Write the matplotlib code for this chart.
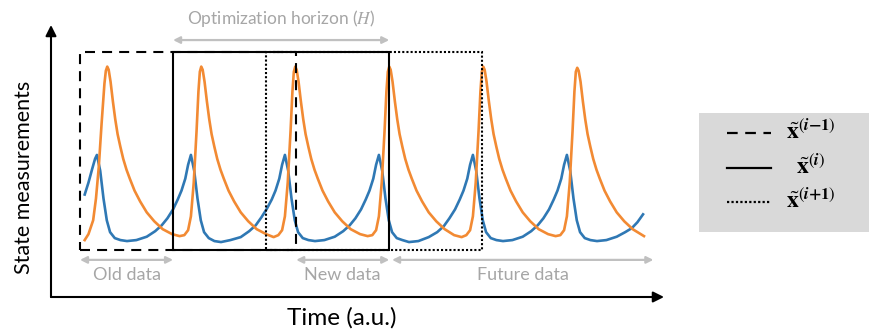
import matplotlib
matplotlib.use("Agg")
import matplotlib.pyplot as plt
from matplotlib.patches import Rectangle
from matplotlib.lines import Line2D

# two state trajectories (time in a.u., normalised state)
blue_t = [0.5, 0.9, 1.3, 1.6,
          1.8, 2.15, 2.5, 2.85, 3.2, 3.7, 4.3, 5.0, 6.0, 7.1, 8.0, 8.7, 9.3, 9.9, 10.4, 10.8, 11.2, 11.5,
          11.8, 12.15, 12.5, 12.85, 13.2, 13.7, 14.3, 15.0, 16.0, 17.1, 18.0, 18.7, 19.3, 19.9, 20.4, 20.8, 21.2, 21.5,
          21.8, 22.15, 22.5, 22.85, 23.2, 23.7, 24.3, 25.0, 26.0, 27.1, 28.0, 28.7, 29.3, 29.9, 30.4, 30.8, 31.2, 31.5,
          31.8, 32.15, 32.5, 32.85, 33.2, 33.7, 34.3, 35.0, 36.0, 37.1, 38.0, 38.7, 39.3, 39.9, 40.4, 40.8, 41.2, 41.5,
          41.8, 42.15, 42.5, 42.85, 43.2, 43.7, 44.3, 45.0, 46.0, 47.1, 48.0, 48.7, 49.3, 49.9, 50.4, 50.8, 51.2, 51.5,
          51.8, 52.15, 52.5, 52.85, 53.2, 53.7, 54.3, 55.0, 56.0, 57.1, 58.0, 58.7, 59.3, 59.9]
blue_y = [0.28, 0.34, 0.41, 0.46,
          0.48, 0.40, 0.26, 0.15, 0.09, 0.06, 0.05, 0.045, 0.05, 0.067, 0.095, 0.125, 0.16, 0.205, 0.255, 0.30, 0.36, 0.43,
          0.48, 0.40, 0.26, 0.15, 0.09, 0.06, 0.045, 0.04, 0.05, 0.065, 0.095, 0.125, 0.165, 0.21, 0.255, 0.30, 0.36, 0.43,
          0.48, 0.40, 0.26, 0.15, 0.09, 0.06, 0.05, 0.045, 0.05, 0.067, 0.095, 0.125, 0.16, 0.205, 0.255, 0.30, 0.36, 0.43,
          0.48, 0.40, 0.26, 0.15, 0.09, 0.06, 0.05, 0.04, 0.045, 0.065, 0.09, 0.12, 0.16, 0.205, 0.255, 0.30, 0.36, 0.43,
          0.48, 0.40, 0.26, 0.15, 0.09, 0.06, 0.05, 0.045, 0.05, 0.067, 0.095, 0.125, 0.16, 0.205, 0.255, 0.30, 0.36, 0.43,
          0.48, 0.40, 0.26, 0.15, 0.09, 0.06, 0.05, 0.045, 0.05, 0.067, 0.09, 0.11, 0.14, 0.18]

orange_t = [0.5, 0.9, 1.4, 1.7, 2.0, 2.3, 2.6, 2.75,
            2.9, 3.05, 3.25, 3.5, 3.75, 4.0, 4.3, 4.6, 4.95, 5.3, 5.8, 6.4, 7.1, 7.9, 8.8, 9.8, 10.6, 11.1, 11.5, 11.8, 12.1, 12.4, 12.6, 12.75,
            12.9, 13.05, 13.25, 13.5, 13.75, 14.0, 14.3, 14.6, 14.95, 15.3, 15.8, 16.4, 17.1, 17.9, 18.8, 19.8, 20.6, 21.1, 21.5, 21.8, 22.1, 22.4, 22.6, 22.75,
            22.9, 23.05, 23.25, 23.5, 23.75, 24.0, 24.3, 24.6, 24.95, 25.3, 25.8, 26.4, 27.1, 27.9, 28.8, 29.8, 30.6, 31.1, 31.5, 31.8, 32.1, 32.4, 32.6, 32.75,
            32.9, 33.05, 33.25, 33.5, 33.75, 34.0, 34.3, 34.6, 34.95, 35.3, 35.8, 36.4, 37.1, 37.9, 38.8, 39.8, 40.6, 41.1, 41.5, 41.8, 42.1, 42.4, 42.6, 42.75,
            42.9, 43.05, 43.25, 43.5, 43.75, 44.0, 44.3, 44.6, 44.95, 45.3, 45.8, 46.4, 47.1, 47.9, 48.8, 49.8, 50.6, 51.1, 51.5, 51.8, 52.1, 52.4, 52.6, 52.75,
            52.9, 53.05, 53.25, 53.5, 53.75, 54.0, 54.3, 54.6, 54.95, 55.3, 55.8, 56.4, 57.1, 57.9, 58.8, 60.0]
orange_y = [0.05, 0.08, 0.15, 0.26, 0.42, 0.64, 0.84, 0.905,
            0.926, 0.91, 0.85, 0.75, 0.66, 0.585, 0.52, 0.46, 0.405, 0.36, 0.30, 0.245, 0.19, 0.145, 0.105, 0.08, 0.07, 0.075, 0.10, 0.17, 0.34, 0.60, 0.80, 0.90,
            0.926, 0.91, 0.85, 0.75, 0.66, 0.585, 0.52, 0.46, 0.405, 0.36, 0.30, 0.245, 0.19, 0.145, 0.105, 0.08, 0.065, 0.075, 0.10, 0.17, 0.34, 0.60, 0.80, 0.90,
            0.926, 0.91, 0.85, 0.75, 0.66, 0.585, 0.52, 0.46, 0.405, 0.36, 0.30, 0.245, 0.19, 0.145, 0.105, 0.08, 0.07, 0.075, 0.10, 0.17, 0.34, 0.60, 0.80, 0.90,
            0.926, 0.91, 0.85, 0.75, 0.66, 0.585, 0.52, 0.46, 0.405, 0.36, 0.30, 0.245, 0.19, 0.145, 0.105, 0.075, 0.065, 0.075, 0.10, 0.17, 0.34, 0.60, 0.80, 0.90,
            0.926, 0.91, 0.85, 0.75, 0.66, 0.585, 0.52, 0.46, 0.405, 0.36, 0.30, 0.245, 0.19, 0.145, 0.105, 0.08, 0.07, 0.075, 0.10, 0.17, 0.34, 0.60, 0.80, 0.90,
            0.92, 0.905, 0.85, 0.75, 0.66, 0.585, 0.52, 0.46, 0.405, 0.36, 0.30, 0.245, 0.19, 0.145, 0.105, 0.07]

# moving horizon windows: (start, end) in time units
window_starts = [0.0, 9.9, 19.8]
window_ends = [23.0, 32.9, 42.8]
window_styles = [(0, (4.8, 3.4)), "-", (0, (1, 1))]
window_labels = [r"$\tilde{\mathbf{x}}^{(\mathbfit{i}\mathbf{-1})}$",
                 r"$\tilde{\mathbf{x}}^{(\mathbfit{i})}$",
                 r"$\tilde{\mathbf{x}}^{(\mathbfit{i}\mathbf{+1})}$"]

plt.rcParams["font.family"] = ["Lato", "DejaVu Sans"]
plt.rcParams["mathtext.fontset"] = "stix"

fig = plt.figure(figsize=(8.7, 3.3), dpi=100)
ax = fig.add_axes([51 / 870, 33 / 330, 613 / 870, 272 / 330])
ax.set_xlim(-3.085, 62.13)
ax.set_ylim(-0.2374, 1.136)
ax.axis("off")

ax.plot(blue_t, blue_y, color="#2f78b4", lw=1.9, zorder=2)
ax.plot(orange_t, orange_y, color="#f28a33", lw=1.9, zorder=2)

# windows (solid on top)
for s, e, ls, z in zip(window_starts, window_ends, window_styles, [3, 4, 3]):
    ax.add_patch(Rectangle((s, 0), e - s, 1.0, fill=False, ec="black",
                           lw=1.5, ls=ls, zorder=z))

# axes arrows
arrow_kw = dict(arrowstyle="-|>", lw=1.5, color="black", mutation_scale=16,
                shrinkA=0, shrinkB=0)
ax.annotate("", xy=(1, 0), xytext=(0, 0), xycoords="axes fraction",
            arrowprops=arrow_kw, annotation_clip=False)
ax.annotate("", xy=(0, 1), xytext=(0, 0), xycoords="axes fraction",
            arrowprops=arrow_kw, annotation_clip=False)

# grey annotations
grey = "#c0c0c0"
grey_txt = "#a6a6a6"
gkw = dict(arrowstyle="<|-|>", lw=1.6, color=grey, mutation_scale=10,
           shrinkA=0, shrinkB=0)
spans = [(window_starts[1], window_ends[1], 1.06, "Optimization horizon ($H$)", 1.17, 12.5),
         (window_starts[0], window_starts[1], -0.05, "Old data", -0.128, 13),
         (window_ends[0], window_ends[1], -0.05, "New data", -0.128, 13),
         (window_ends[1] + 0.3, 61.0, -0.05, "Future data", -0.128, 13)]
for a, b, yy, txt, ty, fs in spans:
    ax.annotate("", xy=(b, yy), xytext=(a, yy), arrowprops=gkw,
                annotation_clip=False)
    ax.text((a + b) / 2, ty, txt, ha="center", va="center", fontsize=fs,
            color=grey_txt)

fig.text(342 / 870, 1 - 318 / 330, "Time (a.u.)", ha="center", va="center",
         fontsize=17.5)
fig.text(24 / 870, 1 - 177 / 330, "State measurements", ha="center",
         va="center", rotation=90, fontsize=15.5)

# legend panel
lax = fig.add_axes([699 / 870, 1 - 232 / 330, 171 / 870, 119 / 330])
lax.set_facecolor("#d9d9d9")
lax.set_xlim(0, 1)
lax.set_ylim(0, 1)
lax.set_xticks([])
lax.set_yticks([])
for sp in lax.spines.values():
    sp.set_visible(False)
for k, (ls, lab) in enumerate(zip(window_styles, window_labels)):
    yy = 0.83 - k * 0.29
    lax.add_line(Line2D([0.165, 0.42], [yy, yy], color="black", lw=1.6, ls=ls))
    lax.text(0.655, yy + 0.02, lab, ha="center", va="center", fontsize=17,
             fontweight="bold")

fig.savefig("out.png", dpi=100)
